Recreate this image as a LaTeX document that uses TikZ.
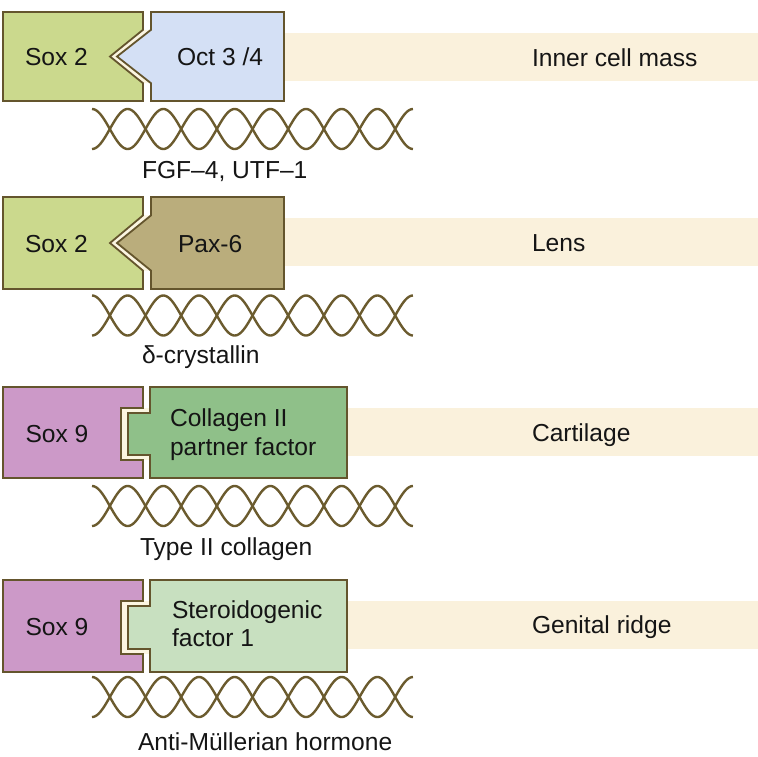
\documentclass[tikz,border=0pt]{standalone}
\usepackage{fontspec}
\setmainfont{Liberation Sans}
\definecolor{soxtwo}{HTML}{CBD98D}
\definecolor{octc}{HTML}{D4E0F5}
\definecolor{paxc}{HTML}{BAAD7C}
\definecolor{soxnine}{HTML}{CC99C8}
\definecolor{colc}{HTML}{8FC089}
\definecolor{sfc}{HTML}{C8E0C0}
\definecolor{bandc}{HTML}{FAF1DC}
\definecolor{gapc}{HTML}{FBF5E1}
\definecolor{edgec}{HTML}{64552D}
\definecolor{helixc}{HTML}{6B5B2E}
\definecolor{txtc}{HTML}{151515}

\tikzset{
  boxline/.style={draw=edgec, line width=1.8pt, line join=miter},
  helixline/.style={draw=helixc, line width=2.4pt},
  lbl/.style={font=\fontsize{24.6}{28.3}\selectfont, text=txtc, inner sep=0pt, outer sep=0pt},
}

\newcommand\ChevPair[4]{%
  \begin{scope}[yshift=-#1pt]
    \fill[bandc] (280,21) rectangle (758,69);
    \fill[gapc] (143,0.2*#2) -- (110,0.5*#2) -- (143,0.8*#2) -- (151,0.8*#2) -- (151,0.2*#2) -- cycle;
    \draw[boxline, fill=#3] (3,0) -- (143,0) -- (143,0.2*#2) -- (110,0.5*#2) -- (143,0.8*#2) -- (143,#2) -- (3,#2) -- cycle;
    \draw[boxline, fill=#4] (151,0) -- (284,0) -- (284,#2) -- (151,#2) -- (151,0.8*#2) -- (117,0.5*#2) -- (151,0.2*#2) -- cycle;
  \end{scope}}

\newcommand\RectPair[4]{%
  \begin{scope}[yshift=-#1pt]
    \fill[bandc] (340,21) rectangle (758,69);
    \fill[gapc] (121,21) rectangle (151,#2-18);
    \draw[boxline, fill=#3] (3,0) -- (143,0) -- (143,21) -- (121,21) -- (121,#2-18) -- (143,#2-18) -- (143,#2) -- (3,#2) -- cycle;
    \draw[boxline, fill=#4] (150,0) -- (347,0) -- (347,#2) -- (150,#2) -- (150,#2-23) -- (128,#2-23) -- (128,26) -- (150,26) -- cycle;
  \end{scope}}

\newcommand\Helix[1]{%
  \draw[helixline] plot[domain=0:9, samples=271] ({92+35.67*\x},{#1+20*cos(180*\x)});
  \draw[helixline] plot[domain=0:9, samples=271] ({92+35.67*\x},{#1-20*cos(180*\x)});}

\begin{document}
\begin{tikzpicture}[x=1pt, y=-1pt]
  \useasboundingbox (0,0) rectangle (758,756);

  % Block 1
  \ChevPair{12}{89}{soxtwo}{octc}
  \Helix{129}
  \node[lbl, anchor=base] (soxA) at (56.5,65) {Sox 2};
  \node[lbl, anchor=base west] (oct) at (177,65) {Oct 3 /4};
  \node[lbl, anchor=base west] (icm) at (532,66) {Inner cell mass};
  \node[lbl, anchor=base west] (capA) at (142,178) {FGF–4, UTF–1};

  % Block 2
  \ChevPair{197}{92}{soxtwo}{paxc}
  \Helix{315.5}
  \node[lbl, anchor=base] (soxB) at (56.5,252.5) {Sox 2};
  \node[lbl, anchor=base west] (pax) at (178,252.5) {Pax-6};
  \node[lbl, anchor=base west] (lens) at (532,251) {Lens};
  \node[lbl, anchor=base west] (capB) at (142,363) {δ-crystallin};

  % Block 3
  \RectPair{387}{91}{soxnine}{colc}
  \Helix{506}
  \node[lbl, anchor=base] (soxC) at (57,442.5) {Sox 9};
  \node[lbl, anchor=north west, align=left] (col) at (170,409) {Collagen II\\partner factor};
  \node[lbl, anchor=base west] (cart) at (532,441.7) {Cartilage};
  \node[lbl, anchor=base west] (capC) at (140,555) {Type II collagen};

  % Block 4
  \RectPair{580}{92}{soxnine}{sfc}
  \Helix{697}
  \node[lbl, anchor=base] (soxD) at (57,635) {Sox 9};
  \node[lbl, anchor=north west, align=left] (sf) at (172,600.5) {Steroidogenic\\factor 1};
  \node[lbl, anchor=base west] (gen) at (532,633.3) {Genital ridge};
  \node[lbl, anchor=base west] (capD) at (138,750.5) {Anti-Müllerian hormone};
\end{tikzpicture}
\end{document}
